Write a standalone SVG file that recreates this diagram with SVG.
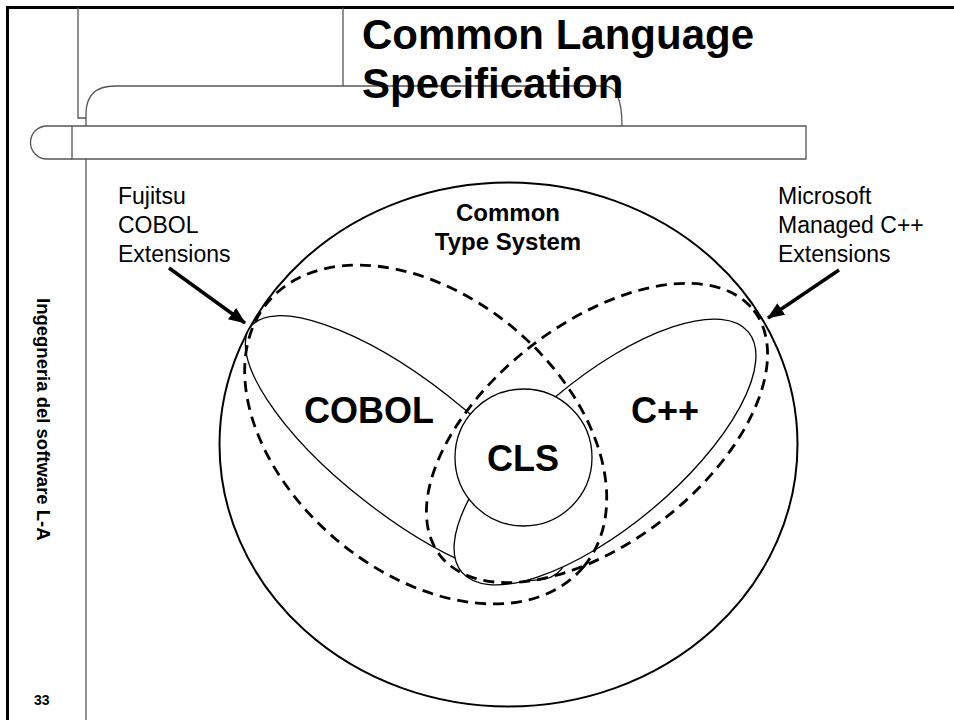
<svg xmlns="http://www.w3.org/2000/svg" width="954" height="720" viewBox="0 0 954 720">
<defs>
<style>
.frame{fill:none;stroke:#000;stroke-width:3}
.deco{fill:none;stroke:#555;stroke-width:1.3}
.bar{fill:#fff;stroke:#555;stroke-width:1.3}
.solid{fill:#fff;stroke:#000;stroke-width:1.3}
.dash{fill:none;stroke:#000;stroke-width:2.8;stroke-dasharray:11 7}
.outer{fill:#fff;stroke:#000;stroke-width:2}
.t{font-family:"Liberation Sans",Arial,sans-serif;fill:#000}
.big{font-size:36px;font-weight:bold}
.lbl{font-size:23px}
.arrow{stroke:#000;stroke-width:3.5;fill:none}
</style>
<marker id="ah" markerUnits="userSpaceOnUse" markerWidth="18" markerHeight="14" refX="16" refY="7" orient="auto">
<path d="M0,0 L17,7 L0,14 Z" fill="#000"/>
</marker>
</defs>
<rect width="954" height="720" fill="#fff"/>
<g id="frame">
<path class="frame" d="M7.5,720 V7.5 H954"/>
<path class="deco" d="M78,7.5 V118 H86"/>
<path class="deco" d="M343,7.5 V86"/>
<path class="deco" d="M86,126 V114 Q86,86 115,86 H604 Q622,86 622,126"/>
<path class="bar" d="M72,126 H806 V159 H72 Z"/>
<path class="deco" d="M72,126 H47 A16.5,16.5 0 0 0 47,159 H72"/>
<path class="deco" d="M86,159 V720"/>
</g>
<g id="title">
<text class="t" x="362" y="49" font-size="42" font-weight="bold">Common Language</text>
<text class="t" x="362" y="98" font-size="42" font-weight="bold">Specification</text>
</g>
<g id="sidebar">
<text class="t" transform="translate(37,298) rotate(90)" font-size="18.5" font-weight="bold">Ingegneria del software L-A</text>
<text class="t" x="34" y="705" font-size="14" font-weight="bold">33</text>
</g>
<g id="cts">
<ellipse class="outer" cx="508.5" cy="444.5" rx="289" ry="262"/>
<text class="t" x="508" y="221" font-size="24" font-weight="bold" text-anchor="middle">Common</text>
<text class="t" x="508" y="250" font-size="24" font-weight="bold" text-anchor="middle">Type System</text>
</g>
<g id="cobol">
<ellipse class="solid" cx="406" cy="448" rx="197" ry="67" transform="rotate(38 406 448)"/>
<text class="t big" x="369" y="423" text-anchor="middle">COBOL</text>
</g>
<g id="cpp">
<ellipse class="solid" cx="605" cy="452" rx="187" ry="74" transform="rotate(-40 605 452)"/>
<text class="t big" x="665" y="423" text-anchor="middle">C++</text>
</g>
<g id="cobol-ext">
<ellipse class="dash" cx="425.7" cy="434.5" rx="206" ry="138" transform="rotate(40 425.7 434.5)"/>
</g>
<g id="cpp-ext">
<ellipse class="dash" cx="597" cy="433" rx="199" ry="109" transform="rotate(-38 597 433)"/>
</g>
<g id="cls">
<circle class="solid" cx="523.5" cy="457.5" r="68.5"/>
<text class="t big" x="523" y="471" text-anchor="middle">CLS</text>
</g>
<g id="fujitsu-label">
<text class="t lbl" x="118" y="204">Fujitsu</text>
<text class="t lbl" x="118" y="233">COBOL</text>
<text class="t lbl" x="118" y="262">Extensions</text>
</g>
<g id="microsoft-label">
<text class="t lbl" x="778" y="204">Microsoft</text>
<text class="t lbl" x="778" y="233">Managed C++</text>
<text class="t lbl" x="778" y="262">Extensions</text>
</g>
<g id="connectors">
<line class="arrow" x1="169" y1="268" x2="245" y2="323" marker-end="url(#ah)"/>
<line class="arrow" x1="839" y1="270" x2="768" y2="318" marker-end="url(#ah)"/>
</g>
</svg>
